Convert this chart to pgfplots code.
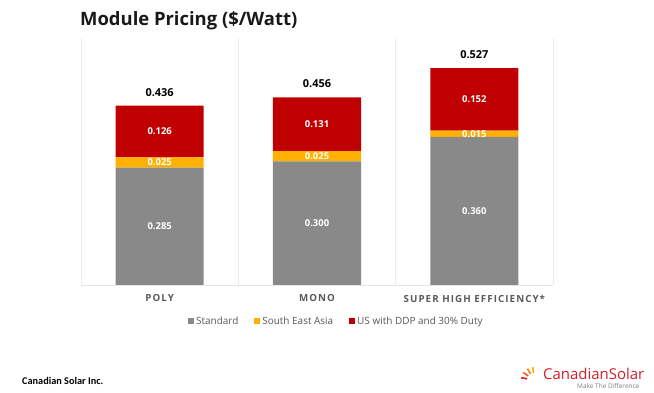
\documentclass[border=0pt]{standalone}
\usepackage{pgfplots}
\pgfplotsset{compat=1.18}
\usetikzlibrary{calc}
\usepackage{fontspec}
\setmainfont{Open Sans}
\newfontfamily\catfont[LetterSpace=11]{Open Sans}
\newfontfamily\calfont{Carlito}
\definecolor{cgray}{HTML}{898989}
\definecolor{cyellow}{HTML}{FFB000}
\definecolor{cred}{HTML}{C00000}
\definecolor{lblgray}{HTML}{595959}
\definecolor{logored}{HTML}{D21E26}
\pgfplotsset{
  geom/.style={at={(81bp,108bp)}, anchor=south west,
    scale only axis, width=472bp, height=247bp,
    xmin=-0.5, xmax=2.5, ymin=0, ymax=0.6},
}
\begin{document}
\begin{tikzpicture}
\fill[white] (0,0) rectangle (654bp,393bp);
\path[use as bounding box] (0,0) rectangle (654bp,393bp);
\node[anchor=base west, inner sep=0, font=\fontsize{18.5}{22}\selectfont\bfseries, text=black!90] at (80bp,393bp-26bp) {Module Pricing (\$/Watt)};
\begin{axis}[
  geom,
  ybar stacked, bar width=0.56,
  axis y line=none,
  axis x line*=bottom, x axis line style={draw=gray!20, -},
  xtick={0,1,2}, xticklabels={POLY,MONO,SUPER HIGH EFFICIENCY*},
  major tick length=0,
  xticklabel style={font=\catfont\bfseries\fontsize{9.8}{11}\selectfont, text=lblgray, anchor=north, inner sep=0, yshift=-9.5bp},
  extra x ticks={-0.5,0.5,1.5,2.5}, extra x tick labels={},
  extra x tick style={grid=major, major grid style={draw=gray!15, line width=0.8pt}},
  legend style={at={(0.541,-0.146)}, anchor=center, draw=none, legend columns=-1, font=\fontsize{10}{12}\selectfont, text=lblgray, /tikz/every even column/.append style={column sep=14bp}},
  legend image code/.code={\fill[#1] (0bp,-3bp) rectangle (6bp,3bp);},
]
\addplot[fill=cgray, draw=none] coordinates {(0,0.285) (1,0.300) (2,0.360)};
\addlegendentry{Standard}
\addplot[fill=cyellow, draw=none] coordinates {(0,0.025) (1,0.025) (2,0.015)};
\addlegendentry{South East Asia}
\addplot[fill=cred, draw=none] coordinates {(0,0.126) (1,0.131) (2,0.152)};
\addlegendentry{US with DDP and 30\% Duty}
\end{axis}
% labels: segment midpoints and totals
\begin{axis}[geom, hide axis]
\addplot[draw=none, mark=none, point meta=explicit symbolic, nodes near coords,
  every node near coord/.style={anchor=center, inner sep=0, text=white, font=\bfseries\fontsize{9.5}{11}\selectfont}]
  coordinates {(0,0.1425) [0.285] (1,0.150) [0.300] (2,0.180) [0.360]
               (0,0.2975) [0.025] (1,0.3125) [0.025] (2,0.3675) [0.015]
               (0,0.373) [0.126] (1,0.3905) [0.131] (2,0.451) [0.152]};
\addplot[draw=none, mark=none, point meta=explicit symbolic, nodes near coords,
  every node near coord/.style={anchor=south, inner sep=0, yshift=9bp, text=black, font=\bfseries\fontsize{11}{13}\selectfont}]
  coordinates {(0,0.436) [0.436] (1,0.456) [0.456] (2,0.527) [0.527]};
\end{axis}
\node[anchor=base west, inner sep=0, font=\calfont\bfseries\fontsize{10.3}{12}\selectfont] at (22bp,393bp-384bp) {Canadian Solar Inc.};
% logo
\foreach \ang/\col in {95/cyellow,120/orange,145/orange!70!red,170/logored}{
  \draw[\col, line width=1.6pt] ($(534bp,393bp-380bp)+(\ang:7bp)$) -- ($(534bp,393bp-380bp)+(\ang:13bp)$);
}
\node[anchor=base west, inner sep=0, text=logored, font=\fontsize{15}{18}\selectfont] at (543bp,393bp-379bp) {CanadianSolar};
\node[anchor=base west, inner sep=0, text=gray, font=\fontsize{6.5}{8}\selectfont] at (577bp,393bp-388bp) {Make The Difference};
\end{tikzpicture}
\end{document}
